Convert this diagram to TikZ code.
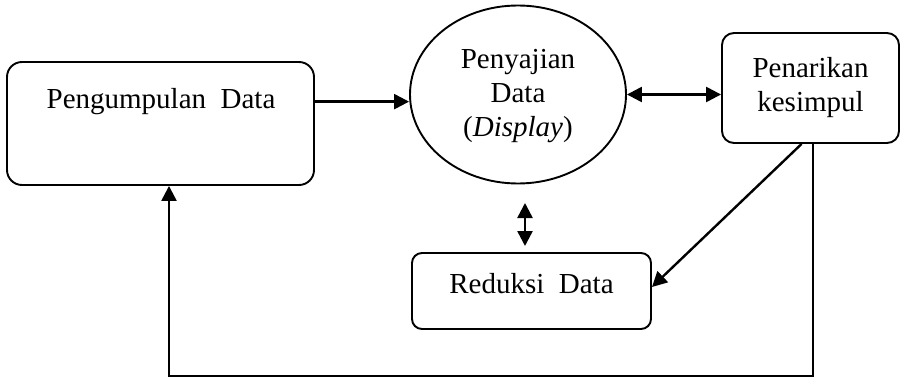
\documentclass[tikz,border=0pt]{standalone}
\usepackage{fontspec}
\setmainfont{Liberation Serif}
\usetikzlibrary{arrows.meta,shapes.geometric,calc}
\tikzset{
  box/.style={draw, line width=1.9pt, rounded corners=#1, inner sep=0pt},
  txt/.style={font=\fontsize{29}{34}\selectfont, inner sep=0pt, align=center},
  arr/.style={line width=2.4pt, -{Triangle[length=15pt,width=15pt]}},
  darr/.style={line width=2.4pt, {Triangle[length=15pt,width=15pt]}-{Triangle[length=15pt,width=15pt]}}
}
\begin{document}
\begin{tikzpicture}[x=1pt,y=1pt]
\useasboundingbox (0,0) rectangle (902,-377);
% boxes
\node[box=15pt, minimum width=307pt, minimum height=123pt] (pd) at (160.5,-123.5) {};
\node[txt, anchor=base] (pdt) at (161,-109) {Pengumpulan\ \ Data};
\node[draw, ellipse, line width=1.9pt, minimum width=216pt, minimum height=178pt, inner sep=0pt] (pdisp) at (518,-94.5) {};
\node[txt] (pdispt) at (518,-96) {Penyajian\\Data\\(\textit{Display})};
\node[box=12pt, minimum width=177pt, minimum height=110pt, txt] (pk) at (810.5,-88) {Penarikan\\kesimpul};
\node[box=10pt, minimum width=239pt, minimum height=76pt] (rd) at (531.5,-291) {};
\node[txt, anchor=base] (rdt) at (531.5,-293) {Reduksi\ \ Data};
% helper coordinates
\coordinate (a1) at ($(pd.north east)!0.325!(pd.south east)$);
\coordinate (v1) at (525,-203);
\coordinate (v2) at (525,-246);
\coordinate (b) at (0,-376);
% connectors
\draw[arr] (a1) -- (a1 -| pdisp.west);
\draw[darr] (pdisp.east) -- (pdisp.east -| pk.west);
\draw[darr] (v1) -- (v2);
\draw[arr] ($(pk.south west)!0.45!(pk.south east)$) -- ([yshift=4pt]rd.east);
\draw[arr] ([xshift=2.5pt]pk.south) -- ([xshift=2.5pt]pk.south |- b) -| ([xshift=8.5pt]pd.south);
\end{tikzpicture}
\end{document}
